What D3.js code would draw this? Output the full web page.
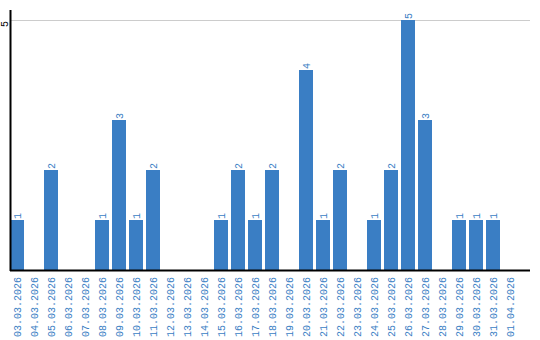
<!DOCTYPE html>
<html>
<head>
<meta charset="utf-8">
<script src="https://cdn.jsdelivr.net/npm/d3@7"></script>
<style>
  body { margin: 0; background: #fff; }
  text { font-family: "Liberation Mono", "DejaVu Sans Mono", monospace; font-size: 10px; }
</style>
</head>
<body>
<script>
// data
var dates = ["03.03.2026","04.03.2026","05.03.2026","06.03.2026","07.03.2026","08.03.2026",
  "09.03.2026","10.03.2026","11.03.2026","12.03.2026","13.03.2026","14.03.2026","15.03.2026",
  "16.03.2026","17.03.2026","18.03.2026","19.03.2026","20.03.2026","21.03.2026","22.03.2026",
  "23.03.2026","24.03.2026","25.03.2026","26.03.2026","27.03.2026","28.03.2026","29.03.2026",
  "30.03.2026","31.03.2026","01.04.2026"];
var counts = [1,0,2,0,0,1,3,1,2,0,0,0,1,2,1,2,0,4,1,2,0,1,2,5,3,0,1,1,1,0];
var yTicks = [5];

var width = 540, height = 340;
var blue = "#3a7ec4";

var svg = d3.select("body").append("svg")
  .attr("width", width)
  .attr("height", height);

// x: band scale, y: linear
var x = d3.scaleBand().domain(dates).range([10, 517]).paddingInner(3/17).paddingOuter(0).align(0);
var y = d3.scaleLinear().domain([0, 5]).range([270, 20]);

// grid line
svg.selectAll("line.grid").data(yTicks).enter().append("line")
  .attr("class", "grid")
  .attr("x1", 10).attr("x2", 530)
  .attr("y1", function (d) { return y(d) + 0.5; })
  .attr("y2", function (d) { return y(d) + 0.5; })
  .attr("stroke", "#ccc").attr("stroke-width", 1);

// bars
var data = dates.map(function (d, i) { return { date: d, v: counts[i] }; });
svg.selectAll("rect.bar").data(data).enter().append("rect")
  .attr("class", "bar")
  .attr("x", function (d) { return x(d.date); })
  .attr("width", x.bandwidth())
  .attr("y", function (d) { return y(d.v); })
  .attr("height", function (d) { return y(0) - y(d.v); })
  .attr("fill", blue);

// value labels above bars
svg.selectAll("text.val").data(data.filter(function (d) { return d.v > 0; })).enter().append("text")
  .attr("class", "val")
  .attr("transform", function (d) {
    return "translate(" + (x(d.date) + x.bandwidth() / 2) + "," + (y(d.v) - 1) + ") rotate(-90)";
  })
  .attr("dy", "0.35em")
  .attr("fill", blue)
  .text(function (d) { return d.v; });

// axes lines
svg.append("line").attr("x1", 10).attr("x2", 530).attr("y1", 270.5).attr("y2", 270.5)
  .attr("stroke", "#000").attr("stroke-width", 2);
svg.append("line").attr("x1", 10.5).attr("x2", 10.5).attr("y1", 10).attr("y2", 271)
  .attr("stroke", "#000").attr("stroke-width", 2);

// y tick labels
svg.selectAll("text.ytick").data(yTicks).enter().append("text")
  .attr("class", "ytick")
  .attr("transform", function (d) { return "translate(4," + (y(d) + 7) + ") rotate(-90)"; })
  .attr("dy", "0.35em")
  .attr("fill", "#000")
  .text(function (d) { return d; });

// x tick labels
svg.selectAll("text.xtick").data(dates).enter().append("text")
  .attr("class", "xtick")
  .attr("transform", function (d) {
    return "translate(" + (x(d) + x.bandwidth() / 2) + ",277) rotate(-90)";
  })
  .attr("dy", "0.35em")
  .attr("text-anchor", "end")
  .attr("fill", blue)
  .text(function (d) { return d; });
</script>
</body>
</html>
